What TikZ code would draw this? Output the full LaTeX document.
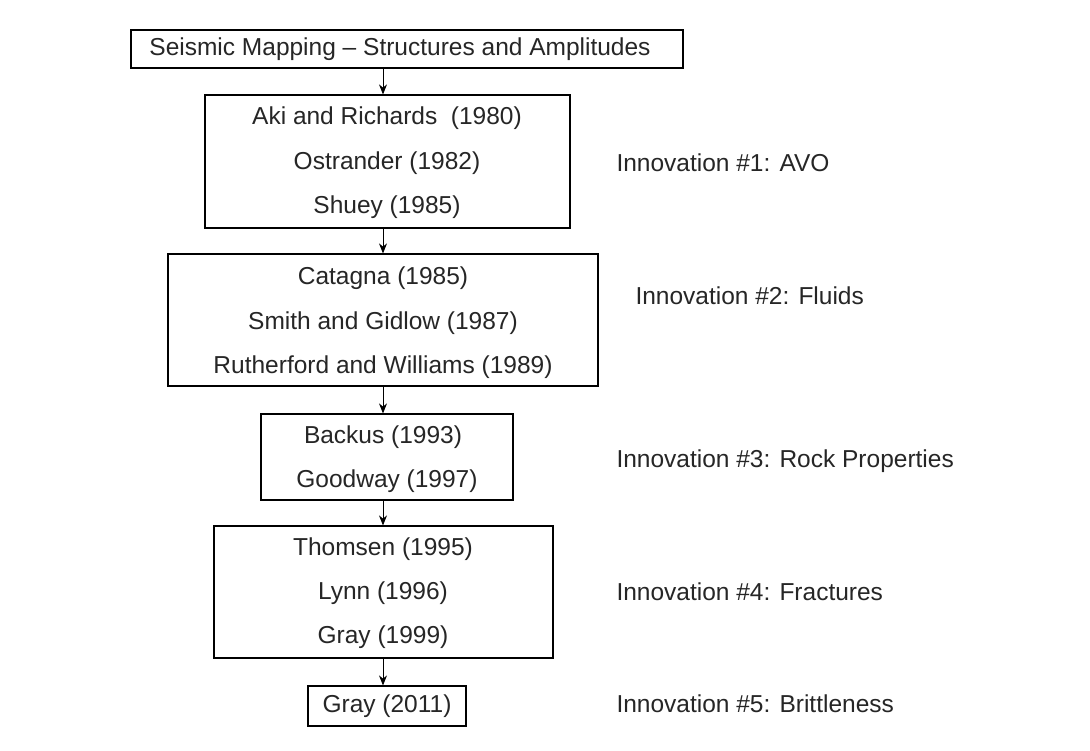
\documentclass[tikz,border=0pt]{standalone}
\usepackage{fontspec}
\setmainfont{Liberation Sans}
\usetikzlibrary{arrows.meta}
\begin{document}
\begin{tikzpicture}[x=1pt,y=-1pt,
  box/.style={draw,line width=1.2pt,inner sep=0pt},
  txt/.style={font=\fontsize{24.5}{28}\selectfont,text=black!85},
  arr/.style={draw,line width=0.9pt,-{Stealth[length=10pt,width=8pt]}}]
\useasboundingbox[fill=white] (0,0) rectangle (1090,750);
\coordinate (ar) at (383,0);
\node[box,minimum width=552pt,minimum height=38pt] (b1) at (407,49) {};
\node[txt] (t1) at (400,49) {Seismic Mapping – Structures and Amplitudes};
\node[box,minimum width=365pt,minimum height=133pt] (b2) at (387.5,161.5) {};
\node[txt] (t2a) at (387,118) {Aki and Richards\ \ (1980)};
\node[txt] (t2b) at (387,163) {Ostrander (1982)};
\node[txt] (t2c) at (387,207) {Shuey (1985)};
\node[box,minimum width=430pt,minimum height=132pt] (b3) at (383,320) {};
\node[txt] (t3a) at (383,278) {Catagna (1985)};
\node[txt] (t3b) at (383,323) {Smith and Gidlow (1987)};
\node[txt] (t3c) at (383,367) {Rutherford and Williams (1989)};
\node[box,minimum width=252pt,minimum height=86pt] (b4) at (387,457) {};
\node[txt] (t4a) at (383,437) {Backus (1993)};
\node[txt] (t4b) at (387,481) {Goodway (1997)};
\node[box,minimum width=339pt,minimum height=132pt] (b5) at (383.5,592) {};
\node[txt] (t5a) at (383,549) {Thomsen (1995)};
\node[txt] (t5b) at (383,593) {Lynn (1996)};
\node[txt] (t5c) at (383,637) {Gray (1999)};
\node[box,minimum width=158pt,minimum height=40pt] (b6) at (387,706) {};
\node[txt] (t6) at (387,706) {Gray (2011)};
\node[txt,anchor=west] (l1) at (613,163) {Innovation \#1: AVO};
\node[txt,anchor=west] (l2) at (632,296) {Innovation \#2: Fluids};
\node[txt,anchor=west] (l3) at (613,461) {Innovation \#3: Rock Properties};
\node[txt,anchor=west] (l4) at (613,592) {Innovation \#4: Fractures};
\node[txt,anchor=west] (l5) at (613,704) {Innovation \#5: Brittleness};
\draw[arr] (b1.south -| ar) -- (b2.north -| ar);
\draw[arr] (b2.south -| ar) -- (b3.north -| ar);
\draw[arr] (b3.south -| ar) -- (b4.north -| ar);
\draw[arr] (b4.south -| ar) -- (b5.north -| ar);
\draw[arr] (b5.south -| ar) -- (b6.north -| ar);
\end{tikzpicture}
\end{document}
